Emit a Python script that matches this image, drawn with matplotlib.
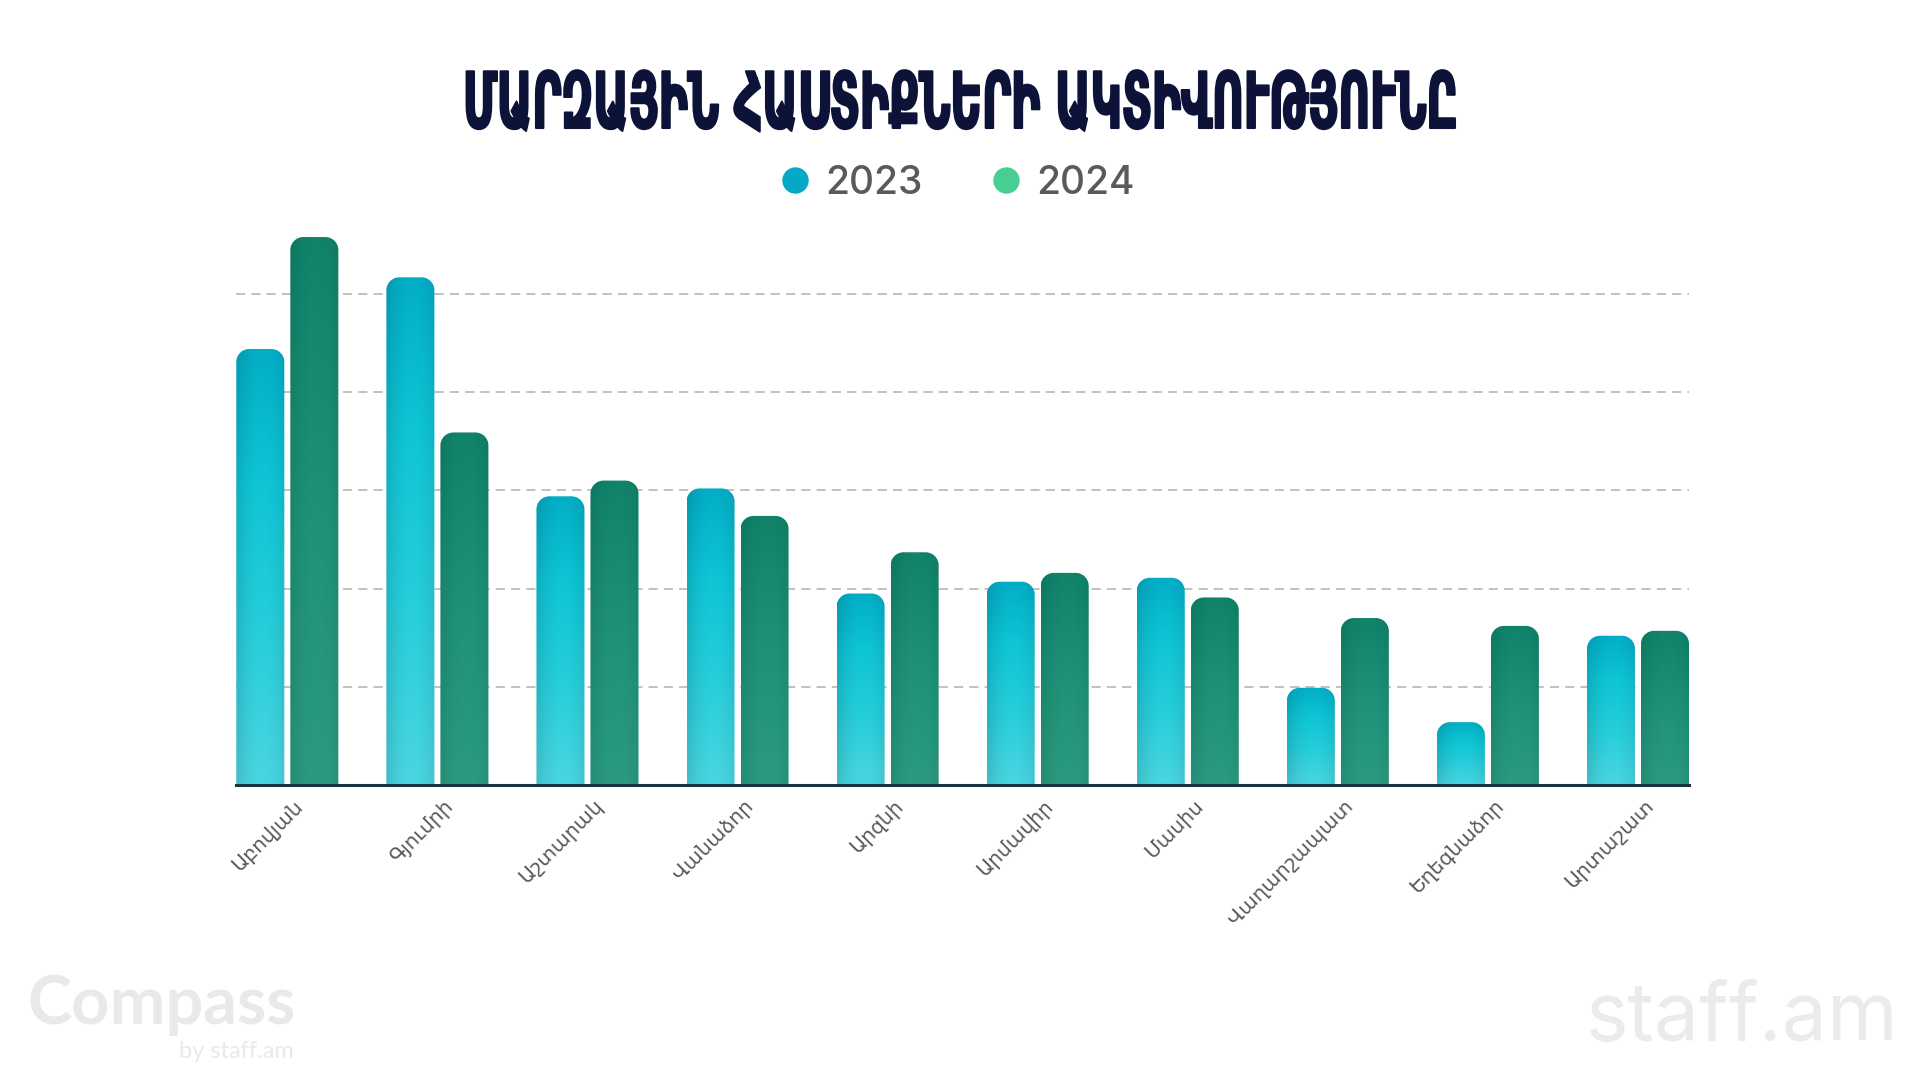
import numpy as np
import matplotlib
matplotlib.use("Agg")
import matplotlib.pyplot as plt
from matplotlib.path import Path
from matplotlib.patches import PathPatch
from matplotlib.lines import Line2D
from matplotlib import patheffects
from matplotlib.transforms import Affine2D, ScaledTranslation
from matplotlib.colors import to_rgb

# data
title = "ՄԱՐԶԱՅԻՆ ՀԱՍՏԻՔՆԵՐԻ ԱԿՏԻՎՈՒԹՅՈՒՆԸ"
cities = ["Աբովյան", "Գյումրի", "Աշտարակ", "Վանաձոր", "Արզնի",
          "Արմավիր", "Մասիս", "Վաղարշապատ", "Եղեգնաձոր", "Արտաշատ"]
years = ["2023", "2024"]
v2023 = [444, 517, 294, 302, 195, 207, 211, 99, 64, 152]
v2024 = [558, 359, 310, 274, 237, 216, 191, 170, 162, 157]
grid_ticks = [100, 200, 300, 400, 500]


class Squeeze(patheffects.AbstractPathEffect):
    # narrows the glyphs horizontally (condensed look), text stays a Text artist
    def __init__(self, sx, stroke=0.0):
        super().__init__()
        self.sx = sx
        self.stroke = stroke

    def draw_path(self, renderer, gc, tpath, affine, rgbFace=None):
        ext = tpath.get_extents()
        cx = 0.5 * (ext.x0 + ext.x1)
        aff = Affine2D().translate(-cx, 0).scale(self.sx, 1).translate(cx, 0) + affine
        gc0 = renderer.new_gc()
        gc0.copy_properties(gc)
        if self.stroke:
            gc0.set_linewidth(self.stroke)
            gc0.set_foreground(rgbFace)
        renderer.draw_path(gc0, tpath, aff, rgbFace)
        gc0.restore()


def gradient(stops, edge, m=60, n=200):
    v = np.linspace(0, 1, n)
    pos = [s[0] for s in stops]
    cols = np.array([to_rgb(s[1]) for s in stops])
    base = np.stack([np.interp(v, pos, cols[:, k]) for k in range(3)], axis=-1)
    u = np.linspace(0, 1, m)
    shade = 1 - edge * np.abs(2 * u - 1.1) ** 2
    img = base[:, None, :] * shade[None, :, None]
    return np.clip(img, 0, 1)


def rounded_top(x0, x1, h, rx, ry):
    k = 0.5523
    ry = min(ry, h)
    verts = [(x0, 0), (x0, h - ry),
             (x0, h - ry + k * ry), (x0 + rx - k * rx, h), (x0 + rx, h),
             (x1 - rx, h),
             (x1 - rx + k * rx, h), (x1, h - ry + k * ry), (x1, h - ry),
             (x1, 0), (x0, 0)]
    codes = [Path.MOVETO, Path.LINETO,
             Path.CURVE4, Path.CURVE4, Path.CURVE4,
             Path.LINETO,
             Path.CURVE4, Path.CURVE4, Path.CURVE4,
             Path.LINETO, Path.CLOSEPOLY]
    return Path(verts, codes)


fig = plt.figure(figsize=(19.2, 10.8), dpi=100)
fig.patch.set_facecolor("white")
ax = fig.add_axes([236.3 / 1920, 1 - 785 / 1080, 1452.7 / 1920, 589.2 / 1080])

x = np.arange(len(cities))
w = 0.32
off = 0.18
bars23 = ax.bar(x - off, v2023, w, color="#0EC3D5")
bars24 = ax.bar(x + off, v2024, w, color="#1B8F74")
ax.set_xlim(-0.34, len(cities) - 1 + 0.34)
ax.set_ylim(0, 600)

p0 = ax.transData.transform((0, 0))
p1 = ax.transData.transform((1, 1))
rx = 13 / (p1[0] - p0[0])
ry = 13 / (p1[1] - p0[1])

img23 = gradient([(0, "#4AD6E1"), (0.35, "#27CEDB"), (0.7, "#0EC5D6"), (1, "#02AEC7")], 0.10)
img24 = gradient([(0, "#2A9B81"), (0.5, "#1E9278"), (1, "#10836A")], 0.08)

for bars, img in ((bars23, img23), (bars24, img24)):
    for r in bars:
        x0, hgt, bw = r.get_x(), r.get_height(), r.get_width()
        r.set_visible(False)
        patch = PathPatch(rounded_top(x0, x0 + bw, hgt, rx, ry), facecolor="none",
                          edgecolor="none", zorder=2)
        ax.add_patch(patch)
        im = ax.imshow(img, extent=(x0, x0 + bw, 0, hgt), origin="lower",
                       aspect="auto", zorder=2, interpolation="bilinear")
        im.set_clip_path(patch)

ax.set_xlim(-0.34, len(cities) - 1 + 0.34)
ax.set_ylim(0, 600)

# grid + axes
ax.set_yticks(grid_ticks)
ax.yaxis.grid(True, linestyle=(0, (6, 4)), color="#B0B0B0", linewidth=1.1)
ax.set_axisbelow(True)
ax.tick_params(axis="y", length=0, labelleft=False)
for s in ["top", "right", "left"]:
    ax.spines[s].set_visible(False)
ax.spines["bottom"].set_color("#1A3340")
ax.spines["bottom"].set_linewidth(2.2)
ax.spines["bottom"].set_zorder(3)

ax.set_xticks(x, cities, rotation=45, ha="right", rotation_mode="anchor",
              fontsize=14.5, color="#5A5A5A", family="DejaVu Sans")
ax.tick_params(axis="x", length=0, pad=8)
for lbl in ax.get_xticklabels():
    lbl.set_transform(lbl.get_transform() + ScaledTranslation(0.06, 0, fig.dpi_scale_trans))

# legend
handles = [Line2D([], [], marker="o", ls="", ms=19, mfc="#03A9C6", mec="none"),
           Line2D([], [], marker="o", ls="", ms=19, mfc="#48CD93", mec="none")]
leg = ax.legend(handles, years, ncol=2, loc="center", bbox_to_anchor=(955 / 1920, 1 - 183 / 1080),
                bbox_transform=fig.transFigure, frameon=False, handlelength=1.0,
                handletextpad=0.28, columnspacing=1.65, labelcolor="#5A5A5A",
                prop={"family": "Inter", "size": 28, "weight": "medium"})

# title
fig.text(0.5, 1 - 128 / 1080, title, ha="center", va="baseline", fontsize=56,
         weight="bold", color="#0D1238", family="DejaVu Sans",
         path_effects=[Squeeze(0.56, stroke=1.5)])

# watermarks
fig.text(27 / 1920, 1 - 1024 / 1080, "Compass", ha="left", va="baseline", fontsize=48,
         weight="bold", color="#E8E9EB", family="Lato")
fig.text(294 / 1920, 1 - 1058 / 1080, "by staff.am", ha="right", va="baseline", fontsize=17,
         color="#E8E9EB", family="Lato")
fig.text(1898 / 1920, 1 - 1040 / 1080, "staff.am", ha="right", va="baseline", fontsize=58,
         color="#EBEBEC", family="Inter")

fig.savefig("out.png", dpi=100, facecolor="white")
